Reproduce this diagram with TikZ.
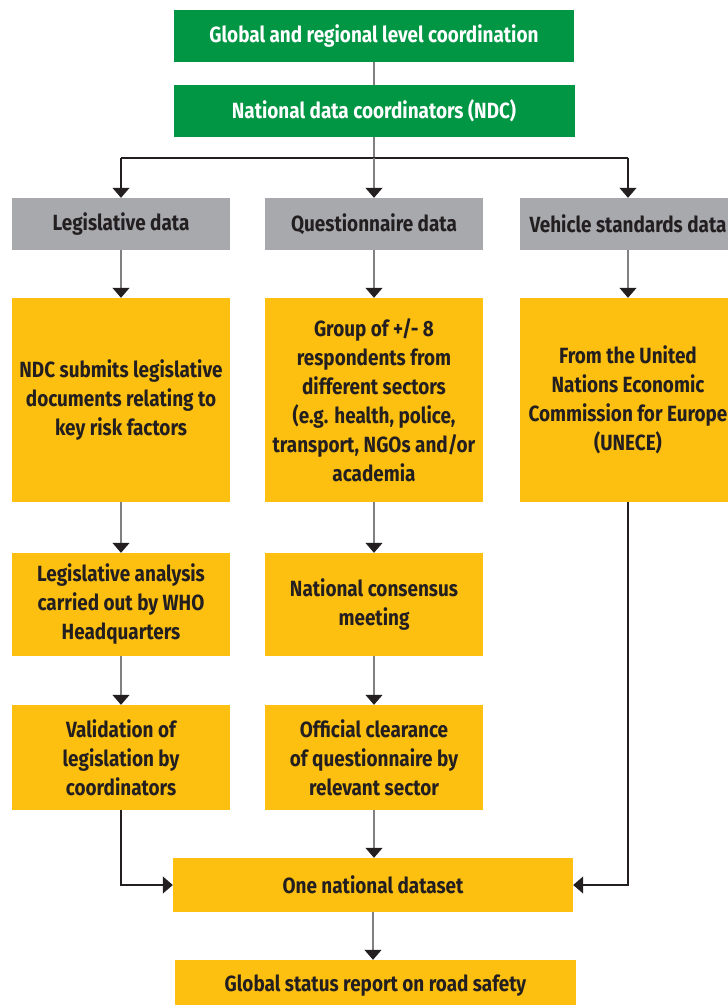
\documentclass[tikz,border=0pt]{standalone}
\usepackage{fontspec}
\setmainfont{Fira Sans}[FakeStretch=0.86]
\usetikzlibrary{arrows.meta}
\definecolor{whogreen}{RGB}{0,150,68}
\definecolor{boxgray}{RGB}{167,169,172}
\definecolor{boxyellow}{RGB}{253,192,16}
\definecolor{inkdark}{RGB}{35,31,32}
\definecolor{linegray}{RGB}{128,128,130}
\tikzset{
  box/.style={inner sep=0pt, align=center, font=\fontsize{22}{29}\selectfont\bfseries, text=inkdark},
  greenbox/.style={box, fill=whogreen, text=white, minimum height=52pt},
  graybox/.style={box, fill=boxgray, minimum height=52pt},
  yellowbox/.style={box, fill=boxyellow},
  link/.style={draw=linegray, line width=1.3pt},
  elbow/.style={draw=inkdark, line width=1.2pt},
  tip/.style={-{Triangle[width=17pt,length=10pt,color=inkdark]}},
  arr/.style={link, tip}
}
\begin{document}
\begin{tikzpicture}[x=1pt,y=-1pt]
  \useasboundingbox (0,0) rectangle (728,1005);

  % coordination
  \node[greenbox, minimum width=400pt] (glob) at (374,36) {Global and regional level coordination};
  \node[greenbox, minimum width=401pt] (ndc) at (374,111) {National data coordinators (NDC)};
  \draw[link] (glob) -- (ndc);

  % data sources
  \node[graybox, minimum width=218pt] (leg) at (121,224) {Legislative data};
  \node[graybox, minimum width=218pt] (que) at (374,224) {Questionnaire data};
  \node[graybox, minimum width=216pt] (veh) at (628,224) {Vehicle standards data};

  % split
  \coordinate (split) at (374,158);
  \draw[link] (ndc.south) -- (split);
  \draw[elbow] (split -| leg) -- (split -| veh);
  \draw[elbow, tip] (split -| leg) -- (leg.north);
  \draw[arr] (split) -- (que.north);
  \draw[elbow, tip] (split -| veh) -- (veh.north);

  % first row
  \node[yellowbox, minimum width=218pt, minimum height=204pt] (leg1) at (121,400)
    {NDC submits legislative\\documents relating to\\key risk factors};
  \node[yellowbox, minimum width=218pt, minimum height=204pt] (que1) at (374,400)
    {Group of +/- 8\\respondents from\\different sectors\\(e.g. health, police,\\transport, NGOs and/or\\academia};
  \node[yellowbox, minimum width=216pt, minimum height=204pt] (veh1) at (628,400)
    {From the United\\Nations Economic\\Commission for Europe\\(UNECE)};
  \draw[arr] (leg) -- (leg1);
  \draw[arr] (que) -- (que1);
  \draw[arr] (veh) -- (veh1);

  % second row
  \node[yellowbox, minimum width=218pt, minimum height=103pt] (leg2) at (121,604.5)
    {Legislative analysis\\carried out by WHO\\Headquarters};
  \node[yellowbox, minimum width=218pt, minimum height=103pt] (que2) at (374,604.5)
    {National consensus\\meeting};
  \draw[arr] (leg1) -- (leg2);
  \draw[arr] (que1) -- (que2);

  % third row
  \node[yellowbox, minimum width=218pt, minimum height=105pt] (leg3) at (121,757.5)
    {Validation of\\legislation by\\coordinators};
  \node[yellowbox, minimum width=218pt, minimum height=105pt] (que3) at (374,757.5)
    {Official clearance\\of questionnaire by\\relevant sector};
  \draw[arr] (leg2) -- (leg3);
  \draw[arr] (que2) -- (que3);

  % dataset and report
  \node[yellowbox, minimum width=400pt, minimum height=54pt] (one) at (373,885) {One national dataset};
  \node[yellowbox, minimum width=401pt, minimum height=52pt] (gsr) at (375.5,986) {Global status report on road safety};
  \draw[arr] (que3) -- (que3 |- one.north);
  \draw[elbow, tip] (leg3.south) |- (one.west);
  \draw[elbow, tip] (veh1.south) |- (one.east);
  \draw[arr] (one.south) -- (one.south |- gsr.north);

\end{tikzpicture}
\end{document}
